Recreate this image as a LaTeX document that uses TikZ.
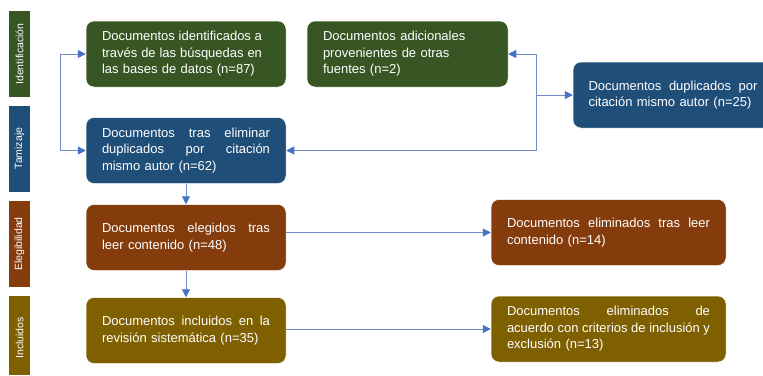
\documentclass[tikz,border=0pt]{standalone}
\usepackage{fontspec}
\setmainfont{Liberation Sans}
\usetikzlibrary{arrows.meta}

\definecolor{stagegreen}{HTML}{375623}
\definecolor{stageblue}{HTML}{1F4E79}
\definecolor{stagebrown}{HTML}{843C0C}
\definecolor{stageolive}{HTML}{7F6000}
\definecolor{flowline}{HTML}{6F8DC6}
\definecolor{flowhead}{HTML}{4472C4}

% a justified line of fixed width; words are separated by \hfill
\newcommand{\jline}[2]{\leavevmode\hbox to #1{#2}}

\begin{document}
\begin{tikzpicture}[x=1pt,y=-1pt,
  flowbox/.style={rounded corners=8pt, draw=white, line width=0.5pt, text=white,
    minimum height=66pt, inner xsep=16pt, inner ysep=0pt, align=left,
    font=\fontsize{13}{16.5}\selectfont},
  stagebar/.style={draw=none, text=white, minimum width=21pt, minimum height=86pt,
    inner sep=0pt, font=\fontsize{10.5}{12}\selectfont},
  flow/.style={draw=flowline, line width=0.9pt,
    -{Triangle[length=8pt,width=8pt,color=flowhead]}},
]
\useasboundingbox (0,0) rectangle (763,375);

% stage labels on the left
\node[stagebar, fill=stagegreen] (sid) at (19.5,54) {\rotatebox{90}{Identificación}};
\node[stagebar, fill=stageblue]  (stm) at (19.5,148.5) {\rotatebox{90}{Tamizaje}};
\node[stagebar, fill=stagebrown] (sel) at (19.5,244) {\rotatebox{90}{Elegibilidad}};
\fill[stageolive] (9,296) rectangle (30,375);
\node[text=white, font=\fontsize{10.5}{12}\selectfont] (sin) at (19.5,338)
  {\rotatebox{90}{Incluidos}};

% flow boxes
\node[flowbox, fill=stagegreen, text width=168pt] (ident) at (186,54)
  {\jline{160pt}{Documentos\hfill identificados\hfill a}\\
   \jline{160pt}{través\hfill de\hfill las\hfill búsquedas\hfill en}\\
   las bases de datos (n=87)};
\node[flowbox, fill=stagegreen, text width=169pt] (extra) at (407.5,54)
  {Documentos adicionales\\
   provenientes de otras\\
   fuentes (n=2)};
\node[flowbox, fill=stageblue, inner xsep=15.5pt, text width=169pt] (dupl) at (673,95)
  {\jline{169pt}{Documentos\hfill duplicados\hfill por}\\
   citación mismo autor (n=25)};
\node[flowbox, fill=stageblue, text width=168pt] (tamiz) at (186,150.5)
  {\jline{168pt}{Documentos\hfill tras\hfill eliminar}\\
   \jline{168pt}{duplicados\hfill por\hfill citación}\\
   mismo autor (n=62)};
\node[flowbox, fill=stagebrown, text width=168pt] (eleg) at (186,237.5)
  {\jline{168pt}{Documentos\hfill elegidos\hfill tras}\\
   leer contenido (n=48)};
\node[flowbox, fill=stageolive, text width=168pt] (incl) at (186,330.5)
  {\jline{168pt}{Documentos\hfill incluidos\hfill en\hfill la}\\
   revisión sistemática (n=35)};
\node[flowbox, fill=stagebrown, text width=203pt] (elim) at (608.5,232.5)
  {\jline{203pt}{Documentos\hfill eliminados\hfill tras\hfill leer}\\
   contenido (n=14)};
\node[flowbox, fill=stageolive, text width=203pt] (excl) at (608.5,329)
  {\jline{203pt}{Documentos\hfill eliminados\hfill de}\\
   \jline{203pt}{acuerdo\hfill con\hfill criterios\hfill de\hfill inclusión\hfill y}\\
   exclusión (n=13)};

% connectors
\coordinate (lsplit) at (60,100);
\coordinate (rsplit) at (536,95);
\draw[flow] (lsplit) |- (ident.west);
\draw[flow] (lsplit) |- (tamiz.west);
\draw[flow] (rsplit) |- (extra.east);
\draw[flow] (rsplit) |- (tamiz.east);
\draw[flow] (rsplit) -- (dupl.west);
\draw[flow] (tamiz.south) -- (eleg.north);
\draw[flow] (eleg.south) -- (incl.north);
\draw[flow] (eleg.east |- elim.west) -- (elim.west);
\draw[flow] (incl.east |- excl.west) -- (excl.west);
\end{tikzpicture}
\end{document}
